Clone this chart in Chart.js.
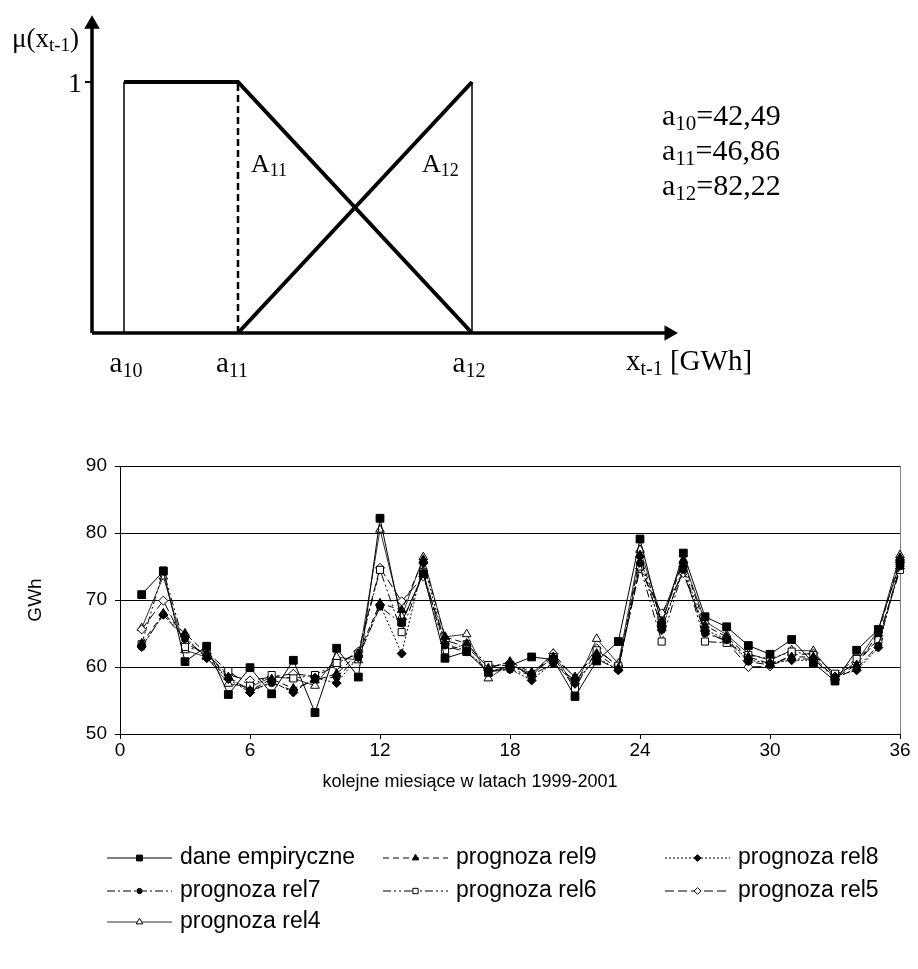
<!DOCTYPE html>
<html>
<head>
<meta charset="utf-8">
<script src="https://cdn.jsdelivr.net/npm/chart.js@4.4.1/dist/chart.umd.min.js"></script>
<style>
  html, body { margin: 0; padding: 0; background: #fff; }
  canvas { display: block; }
</style>
</head>
<body>
<canvas id="funkcja" width="918" height="400"></canvas>
<canvas id="prognozy" width="918" height="569"></canvas>
<script>
// --- gorny rysunek: funkcje przynaleznosci (szkic, os x w jednostkach rysunku) ---
const punktyA = [32, 146, 380];      // polozenie a10, a11, a12 na szkicu
const mu = [0, 1];
const koniecOsiX = 577;
const koniecOsiY = 1.23;
const progi = ["42,49", "46,86", "82,22"];

// --- dolny wykres: dane miesieczne ---
const miesiace = [1, 2, 3, 4, 5, 6, 7, 8, 9, 10, 11, 12, 13, 14, 15, 16, 17, 18,
  19, 20, 21, 22, 23, 24, 25, 26, 27, 28, 29, 30, 31, 32, 33, 34, 35, 36];
const daneEmpiryczne = [70.8, 74.3, 60.8, 63.1, 55.9, 59.9, 56.0, 61.0, 53.2, 62.8, 58.5, 82.2,
  66.7, 73.9, 61.3, 62.3, 59.2, 60.2, 61.5, 61.1, 55.6, 60.9, 63.8, 79.1,
  66.3, 77.0, 67.5, 66.0, 63.2, 61.9, 64.1, 60.6, 57.9, 62.5, 65.6, 75.5];
const rel9 = [63.5, 68.0, 65.0, 62.0, 58.5, 56.5, 58.2, 56.8, 58.0, 59.0, 62.0, 69.5,
  68.5, 76.0, 64.5, 63.5, 59.8, 60.8, 59.2, 61.5, 58.5, 62.0, 59.8, 76.7,
  66.8, 75.8, 66.2, 64.5, 61.5, 60.5, 61.5, 61.5, 58.4, 60.3, 65.0, 76.3];
const rel8 = [63.0, 67.8, 64.5, 61.3, 58.2, 56.2, 57.8, 56.2, 58.4, 57.6, 61.5, 69.3,
  62.0, 75.5, 63.5, 62.4, 59.5, 59.7, 58.0, 60.7, 57.5, 61.5, 59.5, 76.5,
  65.5, 75.0, 65.5, 64.2, 61.0, 60.6, 61.0, 61.0, 58.6, 59.5, 62.9, 75.6];
const rel7 = [63.0, 67.8, 64.2, 61.5, 58.4, 56.5, 57.6, 56.5, 58.2, 58.5, 61.4, 69.0,
  66.5, 74.0, 63.2, 62.2, 59.3, 59.6, 58.8, 60.5, 58.0, 61.2, 59.6, 75.5,
  66.0, 74.5, 65.0, 64.0, 60.8, 60.3, 61.2, 61.2, 58.3, 59.8, 63.2, 75.0];
const rel6 = [63.4, 74.4, 63.0, 62.2, 59.4, 57.2, 58.8, 58.3, 58.8, 60.6, 62.0, 74.5,
  65.2, 74.2, 62.5, 63.4, 60.3, 60.2, 58.8, 61.5, 56.8, 62.5, 60.2, 75.0,
  63.8, 74.7, 63.8, 63.6, 61.8, 61.2, 62.3, 61.8, 59.0, 61.2, 64.0, 74.5];
const rel5 = [65.6, 69.9, 63.5, 62.0, 58.8, 58.0, 58.5, 59.0, 58.6, 60.2, 62.3, 74.8,
  69.8, 73.5, 64.0, 63.0, 60.0, 60.6, 58.6, 62.0, 58.3, 62.8, 60.0, 74.7,
  68.0, 74.0, 65.3, 63.8, 60.0, 60.1, 61.8, 62.0, 58.8, 60.5, 64.2, 74.7];
const rel4 = [65.8, 73.5, 62.5, 61.5, 57.5, 57.0, 58.5, 58.3, 57.2, 61.5, 61.0, 80.5,
  67.5, 76.4, 64.5, 64.9, 58.3, 60.4, 59.0, 62.0, 57.0, 64.2, 60.5, 77.5,
  67.5, 76.0, 66.8, 64.8, 62.0, 61.0, 62.5, 62.4, 58.5, 60.8, 65.5, 76.7];
const etykietySerii = ["dane empiryczne", "prognoza rel9", "prognoza rel8", "prognoza rel7",
  "prognoza rel6", "prognoza rel5", "prognoza rel4"];
const tickiY = [50, 60, 70, 80, 90];
const tickiX = [0, 6, 12, 18, 24, 30, 36];
const tytulX = 'kolejne miesiące w latach 1999-2001';

const SERIF = '"Liberation Serif", "Times New Roman", serif';
const SANS = '"Liberation Sans", Arial, sans-serif';

// tekst z indeksami dolnymi: czesci = [[tekst, czyIndeks], ...]
function rysujTekst(ctx, czesci, x, y, rozmiar, wyrownanie) {
  ctx.save();
  ctx.textBaseline = 'alphabetic';
  ctx.textAlign = 'left';
  ctx.fillStyle = '#000';
  const fonty = czesci.map(c => (c[1] ? Math.round(rozmiar * 0.7) : rozmiar) + 'px ' + SERIF);
  let szer = 0;
  czesci.forEach((c, i) => { ctx.font = fonty[i]; szer += ctx.measureText(c[0]).width; });
  let px = wyrownanie === 'center' ? x - szer / 2 : (wyrownanie === 'right' ? x - szer : x);
  czesci.forEach((c, i) => {
    ctx.font = fonty[i];
    ctx.fillText(c[0], px, y + (c[1] ? rozmiar * 0.16 : 0));
    px += ctx.measureText(c[0]).width;
  });
  ctx.restore();
}

const [a10, a11, a12] = punktyA;
const opisy = [
  { czesci: [['μ(x', 0], ['t-1', 1], [')', 0]], x: -80, y: 1.139, r: 27, w: 'left' },
  { czesci: [['1', 0]], x: -10, y: 0.962, r: 28, w: 'right' },
  { czesci: [['a', 0], ['10', 1]], x: 34, y: -0.155, r: 29, w: 'center' },
  { czesci: [['a', 0], ['11', 1]], x: 140, y: -0.155, r: 29, w: 'center' },
  { czesci: [['a', 0], ['12', 1]], x: 377, y: -0.155, r: 29, w: 'center' },
  { czesci: [['A', 0], ['11', 1]], x: 159, y: 0.641, r: 26, w: 'left' },
  { czesci: [['A', 0], ['12', 1]], x: 330, y: 0.641, r: 26, w: 'left' },
  { czesci: [['x', 0], ['t-1', 1], [' [GWh]', 0]], x: 534, y: -0.147, r: 29, w: 'left' },
  { czesci: [['a', 0], ['10', 1], ['=' + progi[0], 0]], x: 570, y: 0.829, r: 30, w: 'left' },
  { czesci: [['a', 0], ['11', 1], ['=' + progi[1], 0]], x: 570, y: 0.689, r: 30, w: 'left' },
  { czesci: [['a', 0], ['12', 1], ['=' + progi[2], 0]], x: 570, y: 0.550, r: 30, w: 'left' }
];

const linia = (dane, szer, extra) => Object.assign({
  data: dane, showLine: true, borderColor: '#000', borderWidth: szer,
  pointRadius: 0, fill: false, tension: 0, borderJoinStyle: 'miter', clip: false
}, extra || {});

new Chart(document.getElementById('funkcja'), {
  type: 'scatter',
  data: {
    datasets: [
      linia([{ x: a10, y: mu[1] }, { x: a11, y: mu[1] }, { x: a12, y: mu[0] }], 4),
      linia([{ x: a11, y: mu[0] }, { x: a12, y: mu[1] }], 4),
      linia([{ x: a10, y: mu[0] }, { x: a10, y: mu[1] }], 1.5),
      linia([{ x: a12, y: mu[1] }, { x: a12, y: mu[0] }], 1.5),
      linia([{ x: a11, y: mu[0] }, { x: a11, y: mu[1] }], 2.5, { borderDash: [7, 4] }),
      linia([{ x: -7, y: mu[1] }, { x: 0, y: mu[1] }], 2),
      linia([{ x: 0, y: mu[0] }, { x: koniecOsiX, y: mu[0] }], 3.5, {
        pointRadius: [0, 9], pointStyle: 'triangle', rotation: 90,
        pointBackgroundColor: '#000', pointBorderColor: '#000', pointBorderWidth: 0
      }),
      linia([{ x: 0, y: mu[0] }, { x: 0, y: koniecOsiY }], 3.5, {
        pointRadius: [0, 9], pointStyle: 'triangle',
        pointBackgroundColor: '#000', pointBorderColor: '#000', pointBorderWidth: 0
      })
    ]
  },
  options: {
    responsive: false,
    animation: false,
    events: [],
    layout: { padding: 0, autoPadding: false },
    scales: {
      x: { type: 'linear', display: false, min: -92, max: 826 },
      y: { type: 'linear', display: false, min: -0.2669, max: 1.3267 }
    },
    plugins: { legend: { display: false }, tooltip: { enabled: false } }
  },
  plugins: [{
    id: 'opisy',
    afterDraw(chart) {
      const { ctx, scales: { x, y } } = chart;
      opisy.forEach(o => rysujTekst(ctx, o.czesci, x.getPixelForValue(o.x), y.getPixelForValue(o.y), o.r, o.w));
    }
  }]
});

// --- dolny wykres ---
const style = [
  { dane: daneEmpiryczne, dash: [], ps: 'rect', r: 5.5, bg: '#000', kolor: '#000' },
  { dane: rel9, dash: [6, 4], ps: 'triangle', r: 5, bg: '#000', kolor: '#000' },
  { dane: rel8, dash: [2, 2], ps: 'rectRot', r: 4.5, bg: '#000', kolor: '#000' },
  { dane: rel7, dash: [8, 3, 2, 3], ps: 'circle', r: 3.5, bg: '#000', kolor: '#000' },
  { dane: rel6, dash: [8, 3, 2, 3, 2, 3], ps: 'rect', r: 5, bg: '#fff', kolor: '#000' },
  { dane: rel5, dash: [9, 4], ps: 'rectRot', r: 4.5, bg: '#fff', kolor: '#000' },
  { dane: rel4, dash: [], ps: 'triangle', r: 5, bg: '#fff', kolor: '#333' }
];

const zbiory = style.map((s, i) => ({
  label: etykietySerii[i],
  data: s.dane.map((v, j) => ({ x: miesiace[j], y: v })),
  showLine: true,
  borderColor: s.kolor,
  borderWidth: 1,
  borderDash: s.dash,
  pointStyle: s.ps,
  pointRadius: s.r,
  pointBackgroundColor: s.bg,
  pointBorderColor: '#000',
  pointBorderWidth: 1,
  tension: 0,
  clip: false
}));

const legendaSiatka = {
  id: 'legendaSiatka',
  afterDraw(chart) {
    const ctx = chart.ctx;
    const kolumny = [107, 383, 665];
    const wiersze = [458, 491, 522];
    const dl = 65;
    chart.data.datasets.forEach((ds, i) => {
      const x0 = kolumny[i % 3];
      const y0 = wiersze[Math.floor(i / 3)];
      ctx.save();
      ctx.strokeStyle = ds.borderColor;
      ctx.lineWidth = 1;
      ctx.setLineDash(ds.borderDash);
      ctx.beginPath();
      ctx.moveTo(x0, y0);
      ctx.lineTo(x0 + dl, y0);
      ctx.stroke();
      ctx.setLineDash([]);
      ctx.fillStyle = ds.pointBackgroundColor;
      ctx.strokeStyle = '#000';
      Chart.helpers.drawPoint(ctx, {
        pointStyle: ds.pointStyle, radius: ds.pointRadius * 0.75, rotation: 0, borderWidth: 1
      }, x0 + dl / 2, y0);
      ctx.fillStyle = '#000';
      ctx.font = '23px ' + SANS;
      ctx.textBaseline = 'middle';
      ctx.textAlign = 'left';
      ctx.fillText(ds.label, x0 + dl + 8, y0);
      ctx.restore();
    });
  }
};

// prawa krawedz obszaru i podpis osi x (wysrodkowany jak w oryginale, nieco w lewo)
const ramkaITytul = {
  id: 'ramkaITytul',
  beforeDatasetsDraw(chart) {
    const { ctx, chartArea: a } = chart;
    ctx.save();
    ctx.strokeStyle = '#808080';
    ctx.lineWidth = 1;
    ctx.beginPath();
    ctx.moveTo(a.right + 0.5, a.top);
    ctx.lineTo(a.right + 0.5, a.bottom);
    ctx.stroke();
    ctx.restore();
  },
  afterDraw(chart) {
    const { ctx, chartArea: a } = chart;
    ctx.save();
    ctx.fillStyle = '#000';
    ctx.font = '18px ' + SANS;
    ctx.textAlign = 'center';
    ctx.textBaseline = 'middle';
    ctx.fillText(tytulX, 470, a.bottom + 48);
    ctx.restore();
  }
};

new Chart(document.getElementById('prognozy'), {
  type: 'scatter',
  data: { datasets: zbiory },
  options: {
    responsive: false,
    animation: false,
    events: [],
    layout: { padding: { top: 66, right: 18, left: 0, bottom: 172 } },
    scales: {
      x: {
        type: 'linear', min: tickiX[0], max: tickiX[tickiX.length - 1],
        afterBuildTicks: s => { s.ticks = tickiX.map(v => ({ value: v })); },
        afterFit: s => { s.height = 63; },
        ticks: { color: '#000', font: { family: SANS, size: 19 }, padding: 0, maxRotation: 0 },
        grid: { drawOnChartArea: false, color: '#000', tickLength: 5 },
        border: { color: '#000', width: 1 },
        title: { display: false }
      },
      y: {
        type: 'linear', min: tickiY[0], max: tickiY[tickiY.length - 1],
        afterBuildTicks: s => { s.ticks = tickiY.map(v => ({ value: v })); },
        afterFit: s => { s.width = 120; },
        ticks: { color: '#000', font: { family: SANS, size: 19 }, padding: 8 },
        grid: { color: '#000', lineWidth: 1, tickLength: 5 },
        border: { color: '#000', width: 1 },
        title: {
          display: true, text: 'GWh', color: '#000',
          font: { family: SANS, size: 19 }, padding: { top: 24, bottom: 0 }
        }
      }
    },
    plugins: { legend: { display: false }, tooltip: { enabled: false } }
  },
  plugins: [ramkaITytul, legendaSiatka]
});
</script>
</body>
</html>
